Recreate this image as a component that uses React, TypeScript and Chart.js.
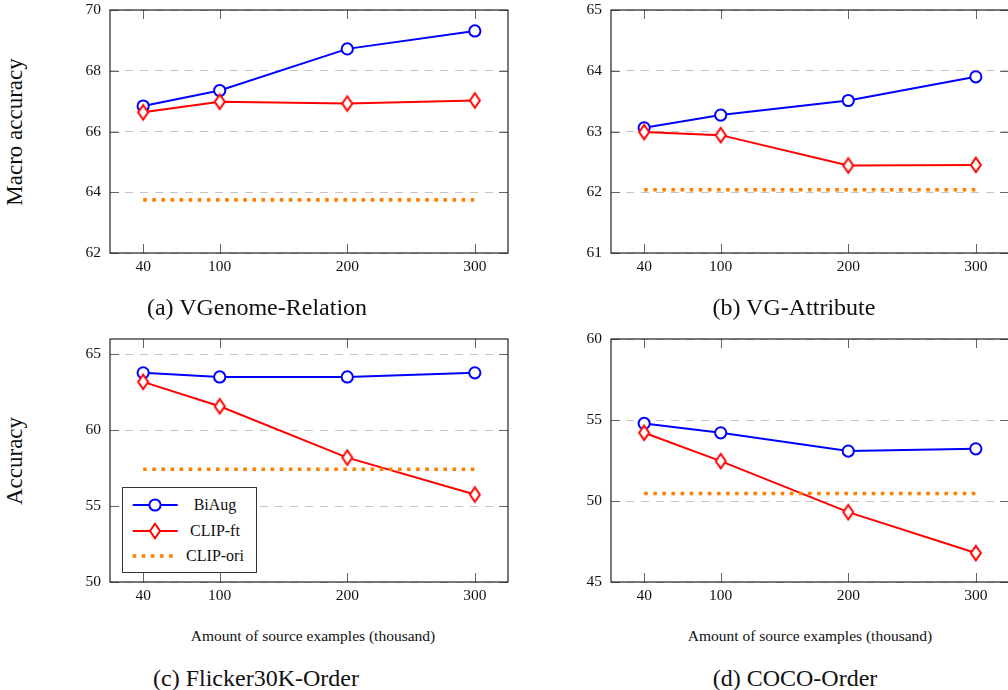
import React, { useEffect, useRef } from "react";
import { Chart, registerables } from "chart.js";

Chart.register(...registerables);

// ---------- data ----------
const xValues = [40, 100, 200, 300];
const xTickValues = [40, 100, 200, 300];
const seriesNames = ["BiAug", "CLIP-ft", "CLIP-ori"];

const biAugA = [66.84, 67.35, 68.72, 69.31];
const clipFtA = [66.63, 66.98, 66.92, 67.02];
const clipOriA = [63.75, 63.75, 63.75, 63.75];
const yTicksA = [62, 64, 66, 68, 70];

const biAugB = [63.06, 63.27, 63.51, 63.9];
const clipFtB = [62.99, 62.94, 62.44, 62.45];
const clipOriB = [62.04, 62.04, 62.04, 62.04];
const yTicksB = [61, 62, 63, 64, 65];

const biAugC = [63.77, 63.5, 63.5, 63.77];
const clipFtC = [63.18, 61.57, 58.19, 55.76];
const clipOriC = [57.42, 57.42, 57.42, 57.42];
const yTicksC = [50, 55, 60, 65];

const biAugD = [54.79, 54.21, 53.08, 53.22];
const clipFtD = [54.21, 52.46, 49.31, 46.79];
const clipOriD = [50.46, 50.46, 50.46, 50.46];
const yTicksD = [45, 50, 55, 60];

const captions = ["(a) VGenome-Relation", "(b) VG-Attribute", "(c) Flicker30K-Order", "(d) COCO-Order"];
const yTitleTop = "Macro accuracy";
const yTitleBottom = "Accuracy";
const xTitle = "Amount of source examples (thousand)";

// ---------- styling ----------
const FONT = "'Liberation Serif', 'Times New Roman', serif";
const BLUE = "#0000ff";
const RED = "#ff0000";
const ORANGE = "#ff8000";
const Y_AXIS_W = 60;
const X_AXIS_H = 30;
const PAD_TOP = 22;
const PAD_RIGHT = 12;
const PLOT_W = 398;
const PLOT_H = 243;
const TICK_LEN = 9;

function makeDiamond(): HTMLCanvasElement {
  const c = document.createElement("canvas");
  c.width = 16;
  c.height = 22;
  const ctx = c.getContext("2d")!;
  ctx.beginPath();
  ctx.moveTo(8, 3.7);
  ctx.lineTo(13, 11);
  ctx.lineTo(8, 18.3);
  ctx.lineTo(3, 11);
  ctx.closePath();
  ctx.fillStyle = "#ffffff";
  ctx.fill();
  ctx.lineWidth = 2;
  ctx.strokeStyle = RED;
  ctx.lineJoin = "miter";
  ctx.stroke();
  return c;
}

const framePlugin = {
  id: "pgfFrame",
  beforeDatasetsDraw(chart: any) {
    const { ctx, chartArea: a, scales } = chart;
    const xs = scales.x;
    const ys = scales.y;
    ctx.save();
    ctx.strokeStyle = "#666";
    ctx.lineWidth = 1;
    ctx.beginPath();
    for (const v of xTickValues) {
      const px = Math.round(xs.getPixelForValue(v)) + 0.5;
      ctx.moveTo(px, a.bottom);
      ctx.lineTo(px, a.bottom - TICK_LEN);
      ctx.moveTo(px, a.top);
      ctx.lineTo(px, a.top + TICK_LEN);
    }
    for (const t of ys.ticks) {
      const py = Math.round(ys.getPixelForValue(t.value)) + 0.5;
      ctx.moveTo(a.left, py);
      ctx.lineTo(a.left + TICK_LEN, py);
      ctx.moveTo(a.right, py);
      ctx.lineTo(a.right - TICK_LEN, py);
    }
    ctx.stroke();
    ctx.strokeStyle = "#222";
    ctx.lineWidth = 1.2;
    ctx.strokeRect(a.left, a.top, a.right - a.left, a.bottom - a.top);
    ctx.restore();
  },
};

type PanelProps = {
  plotLeft: number;
  plotTop: number;
  biAug: number[];
  clipFt: number[];
  clipOri: number[];
  yTicks: number[];
  yMin: number;
  yMax: number;
};

function Panel(props: PanelProps) {
  const ref = useRef<HTMLCanvasElement | null>(null);
  const { plotLeft, plotTop, biAug, clipFt, clipOri, yTicks, yMin, yMax } = props;
  const canvasLeft = plotLeft - Y_AXIS_W;
  const canvasTop = plotTop - PAD_TOP;
  const width = Y_AXIS_W + PLOT_W + PAD_RIGHT;
  const height = PAD_TOP + PLOT_H + X_AXIS_H;

  useEffect(() => {
    if (!ref.current) return;
    const diamond = makeDiamond();
    const toPts = (arr: number[]) => xValues.map((x, i) => ({ x, y: arr[i] }));
    const chart = new Chart(ref.current, {
      type: "line",
      data: {
        datasets: [
          {
            label: seriesNames[0],
            data: toPts(biAug),
            borderColor: BLUE,
            backgroundColor: "#ffffff",
            borderWidth: 2,
            pointStyle: "circle",
            pointRadius: 5.6,
            pointBorderWidth: 2,
            pointBorderColor: BLUE,
            pointBackgroundColor: "#ffffff",
            order: 3,
          },
          {
            label: seriesNames[1],
            data: toPts(clipFt),
            borderColor: RED,
            backgroundColor: "#ffffff",
            borderWidth: 2,
            pointStyle: diamond,
            pointRadius: 6,
            order: 2,
          },
          {
            label: seriesNames[2],
            data: toPts(clipOri),
            borderColor: ORANGE,
            borderWidth: 3.6,
            borderDash: [3.6, 5.5],
            borderCapStyle: "butt",
            pointRadius: 0,
            order: 1,
          },
        ],
      },
      options: {
        animation: false,
        responsive: false,
        maintainAspectRatio: false,
        layout: { padding: { top: PAD_TOP, right: PAD_RIGHT, left: 0, bottom: 0 } },
        plugins: { legend: { display: false }, tooltip: { enabled: false } },
        scales: {
          x: {
            type: "linear",
            min: 14,
            max: 326,
            afterBuildTicks: (scale: any) => {
              scale.ticks = xTickValues.map((v) => ({ value: v }));
            },
            afterFit: (scale: any) => {
              scale.height = X_AXIS_H;
            },
            grid: { display: false, drawTicks: false },
            border: { display: false },
            ticks: {
              padding: 5,
              color: "#111",
              font: { family: FONT, size: 15.5 },
              maxRotation: 0,
              callback: (v: any) => String(v),
            },
          },
          y: {
            type: "linear",
            min: yMin,
            max: yMax,
            afterBuildTicks: (scale: any) => {
              scale.ticks = yTicks.map((v) => ({ value: v }));
            },
            afterFit: (scale: any) => {
              scale.width = Y_AXIS_W;
            },
            grid: { color: "#c4c4c4", lineWidth: 1, drawTicks: false },
            border: { display: false, dash: [8, 7] },
            ticks: {
              padding: 9,
              color: "#111",
              font: { family: FONT, size: 15.5 },
              callback: (v: any) => String(v),
            },
          },
        },
      },
      plugins: [framePlugin],
    } as any);
    return () => chart.destroy();
  }, []);

  return (
    <canvas
      ref={ref}
      width={width}
      height={height}
      style={{ position: "absolute", left: canvasLeft, top: canvasTop, width, height }}
    />
  );
}

function Text(props: { x: number; y: number; size: number; text: string; rotate?: boolean }) {
  const { x, y, size, text, rotate } = props;
  return (
    <div
      style={{
        position: "absolute",
        left: x,
        top: y,
        transform: `translate(-50%, -50%)${rotate ? " rotate(-90deg)" : ""}`,
        fontFamily: FONT,
        fontSize: size,
        whiteSpace: "nowrap",
        color: "#111",
        lineHeight: 1.2,
      }}
    >
      {text}
    </div>
  );
}

function Legend() {
  const left = 122;
  const top = 487;
  const w = 135;
  const h = 86;
  const rows = [18, 44, 69];
  return (
    <div
      style={{
        position: "absolute",
        left,
        top,
        width: w,
        height: h,
        border: "1px solid #333",
        boxSizing: "border-box",
        background: "#fff",
      }}
    >
      <svg width={w} height={h} style={{ position: "absolute", left: -1, top: -1 }}>
        <line x1={10.7} y1={rows[0]} x2={55.7} y2={rows[0]} stroke={BLUE} strokeWidth={2} />
        <circle cx={33} cy={rows[0]} r={5.6} fill="#fff" stroke={BLUE} strokeWidth={2} />
        <line x1={10.7} y1={rows[1]} x2={55.7} y2={rows[1]} stroke={RED} strokeWidth={2} />
        <polygon
          points={`33,${rows[1] - 7.3} 38,${rows[1]} 33,${rows[1] + 7.3} 28,${rows[1]}`}
          fill="#fff"
          stroke={RED}
          strokeWidth={2}
        />
        <line
          x1={10.7}
          y1={rows[2]}
          x2={52}
          y2={rows[2]}
          stroke={ORANGE}
          strokeWidth={3.6}
          strokeDasharray="3.6 5.5"
        />
      </svg>
      {seriesNames.map((n, i) => (
        <div
          key={n}
          style={{
            position: "absolute",
            left: 92,
            top: rows[i] - 1,
            transform: "translate(-50%, -50%)",
            fontFamily: FONT,
            fontSize: 16,
            whiteSpace: "nowrap",
            color: "#111",
            lineHeight: 1.2,
          }}
        >
          {n}
        </div>
      ))}
    </div>
  );
}

export default function App() {
  return (
    <div
      style={{
        position: "absolute",
        left: 0,
        top: 0,
        width: 1008,
        height: 690,
        overflow: "hidden",
        background: "#fff",
      }}
    >
      <Panel plotLeft={110} plotTop={10} biAug={biAugA} clipFt={clipFtA} clipOri={clipOriA} yTicks={yTicksA} yMin={62} yMax={70} />
      <Panel plotLeft={611} plotTop={10} biAug={biAugB} clipFt={clipFtB} clipOri={clipOriB} yTicks={yTicksB} yMin={61} yMax={65} />
      <Panel plotLeft={110} plotTop={339} biAug={biAugC} clipFt={clipFtC} clipOri={clipOriC} yTicks={yTicksC} yMin={50} yMax={66} />
      <Panel plotLeft={611} plotTop={339} biAug={biAugD} clipFt={clipFtD} clipOri={clipOriD} yTicks={yTicksD} yMin={45} yMax={60} />
      <Text x={15} y={132} size={23} text={yTitleTop} rotate />
      <Text x={15} y={461} size={23} text={yTitleBottom} rotate />
      <Text x={257} y={307} size={24} text={captions[0]} />
      <Text x={794} y={307} size={24} text={captions[1]} />
      <Text x={256} y={678} size={24} text={captions[2]} />
      <Text x={795} y={678} size={24} text={captions[3]} />
      <Text x={313} y={636} size={15.5} text={xTitle} />
      <Text x={810} y={636} size={15.5} text={xTitle} />
      <Legend />
    </div>
  );
}
